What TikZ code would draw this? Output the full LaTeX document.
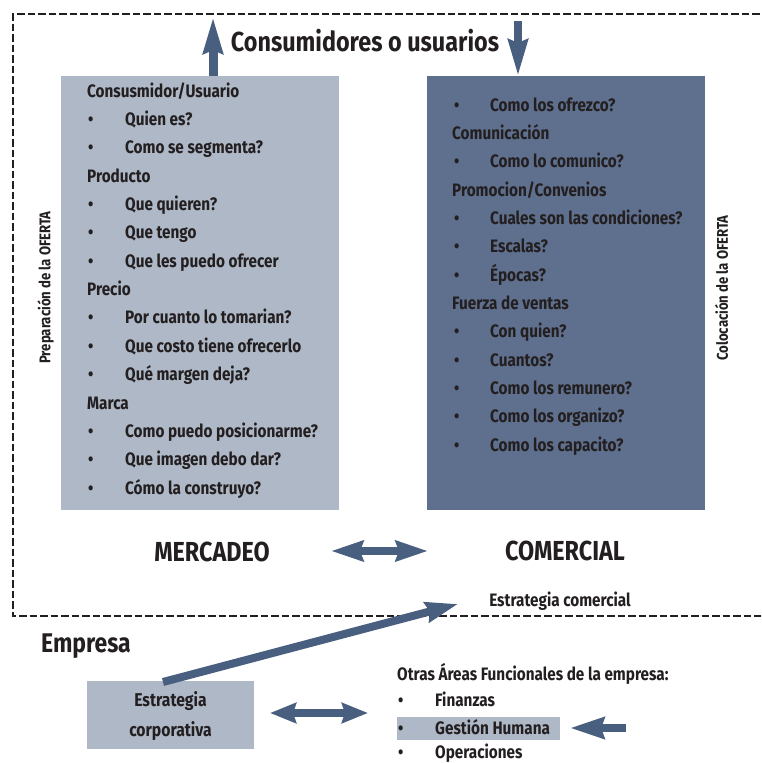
\documentclass[tikz,border=0pt]{standalone}
\usepackage{fontspec}
\setmainfont{Fira Sans}[FakeStretch=0.85]
\usetikzlibrary{arrows.meta}

\definecolor{boxlight}{RGB}{174,184,199}
\definecolor{boxdark}{RGB}{95,112,142}
\definecolor{arrowblue}{RGB}{73,95,127}
\definecolor{ink}{RGB}{35,31,32}

\tikzset{
  txt/.style={inner sep=0pt, text=ink, font=\bfseries\fontsize{18}{21}\selectfont},
  hd/.style={txt, anchor=base west},
  it/.style={txt, anchor=base west},
  bl/.style={txt, anchor=base west},
  panel/.style={inner sep=0pt, anchor=north west},
  fat/.style={draw=arrowblue, line width=8pt},
  tipA/.tip={Stealth[length=32pt,width=20pt,inset=3pt]},
  tipB/.tip={Stealth[length=36pt,width=19pt,inset=3pt]},
  tipC/.tip={Stealth[length=26pt,width=20pt,inset=3pt]},
}

\begin{document}
\begin{tikzpicture}[x=1pt,y=-1pt]
\useasboundingbox (0,0) rectangle (761,763);
\clip (0,0) rectangle (761,763);

% frame of the commercial area
\draw[ink, line width=2.4pt, dash pattern=on 7.5pt off 3pt]
  (770,14) -- (13,14) -- (13,616) -- (770,616);

% title and the two exchange arrows
\node[txt, font=\bfseries\fontsize{27.5}{31}\selectfont] (cons) at (365,41) {Consumidores o usuarios};

% panels
\node[panel, fill=boxlight, minimum width=278pt, minimum height=434pt] (mk) at (61,76) {};
\node[panel, fill=boxdark, minimum width=278pt, minimum height=434pt] (co) at (427,76) {};

\coordinate (upS) at (213,76);
\coordinate (upE) at (213,17);
\coordinate (dnS) at (518,21);
\coordinate (dnE) at (518,76);
\draw[fat, line width=9pt, -{tipB}] (upS) -- (upE);
\draw[fat, -{tipB}] (dnS) -- (dnE);

% left panel: preparing the offer
\node[hd] (l0)  at (87,97)    {Consusmidor/Usuario};
\node[bl] (lb1) at (88,125.4) {•};
\node[it] (l1)  at (125,125.4){Quien es?};
\node[bl] (lb2) at (88,153.7) {•};
\node[it] (l2)  at (125,153.7){Como se segmenta?};
\node[hd] (l3)  at (87,182.1) {Producto};
\node[bl] (lb4) at (88,210.4) {•};
\node[it] (l4)  at (125,210.4){Que quieren?};
\node[bl] (lb5) at (88,238.8) {•};
\node[it] (l5)  at (125,238.8){Que tengo};
\node[bl] (lb6) at (88,267.2) {•};
\node[it] (l6)  at (125,267.2){Que les puedo ofrecer};
\node[hd] (l7)  at (87,295.5) {Precio};
\node[bl] (lb8) at (88,323.9) {•};
\node[it] (l8)  at (125,323.9){Por cuanto lo tomarian?};
\node[bl] (lb9) at (88,352.2) {•};
\node[it] (l9)  at (125,352.2){Que costo tiene ofrecerlo};
\node[bl] (lb10) at (88,380.6) {•};
\node[it] (l10) at (125,380.6){Qué margen deja?};
\node[hd] (l11) at (87,409)   {Marca};
\node[bl] (lb12) at (88,437.3) {•};
\node[it] (l12) at (125,437.3){Como puedo posicionarme?};
\node[bl] (lb13) at (88,465.7) {•};
\node[it] (l13) at (125,465.7){Que imagen debo dar?};
\node[bl] (lb14) at (88,494)  {•};
\node[it] (l14) at (125,494)  {Cómo la construyo?};

% right panel: placing the offer
\node[bl] (rb0) at (454,111)   {•};
\node[it] (r0)  at (490,111)   {Como los ofrezco?};
\node[hd] (r1)  at (452,139.3) {Comunicación};
\node[bl] (rb2) at (454,167.7) {•};
\node[it] (r2)  at (490,167.7) {Como lo comunico?};
\node[hd] (r3)  at (452,196)   {Promocion/Convenios};
\node[bl] (rb4) at (454,224.3) {•};
\node[it] (r4)  at (490,224.3) {Cuales son las condiciones?};
\node[bl] (rb5) at (454,252.7) {•};
\node[it] (r5)  at (490,252.7) {Escalas?};
\node[bl] (rb6) at (454,281)   {•};
\node[it] (r6)  at (490,281)   {Épocas?};
\node[hd] (r7)  at (452,309.3) {Fuerza de ventas};
\node[bl] (rb8) at (454,337.6) {•};
\node[it] (r8)  at (490,337.6) {Con quien?};
\node[bl] (rb9) at (454,366)   {•};
\node[it] (r9)  at (490,366)   {Cuantos?};
\node[bl] (rb10) at (454,394.3) {•};
\node[it] (r10) at (490,394.3) {Como los remunero?};
\node[bl] (rb11) at (454,422.6) {•};
\node[it] (r11) at (490,422.6) {Como los organizo?};
\node[bl] (rb12) at (454,451)   {•};
\node[it] (r12) at (490,451)   {Como los capacito?};

% side captions
\node[txt, font=\bfseries\fontsize{15.5}{18}\selectfont, rotate=90] (prep) at (45.5,287.5) {Preparación de la OFERTA};
\node[txt, font=\bfseries\fontsize{15.5}{18}\selectfont, rotate=90] (colo) at (721.5,288) {Colocación de la OFERTA};

% the two areas
\node[txt, font=\bfseries\fontsize{27.5}{31}\selectfont] (merc) at (212,552) {MERCADEO};
\node[txt, font=\bfseries\fontsize{27.5}{31}\selectfont] (comr) at (565,551) {COMERCIAL};
\coordinate (mcL) at (331,551);
\coordinate (mcR) at (428,551);
\draw[fat, {tipA}-{tipA}] (mcL) -- (mcR);

\node[txt, anchor=base] (estc) at (560,606) {Estrategia comercial};

% company level
\node[txt, anchor=base west, font=\bfseries\fontsize{27}{30}\selectfont] (emp) at (41,652) {Empresa};
\node[panel, fill=boxlight, minimum width=167pt, minimum height=68pt] (corp) at (87,681) {};
\node[txt, anchor=base, font=\bfseries\fontsize{18.5}{22}\selectfont] (corp1) at (170.5,706) {Estrategia};
\node[txt, anchor=base, font=\bfseries\fontsize{18.5}{22}\selectfont] (corp2) at (170.5,736) {corporativa};

\coordinate (dgS) at (163,682);
\coordinate (dgE) at (458,604);
\draw[fat, -{tipA}] (dgS) -- (dgE);

\coordinate (bdL) at (270,713);
\coordinate (bdR) at (368,713);
\draw[fat, {tipC}-{tipC}] (bdL) -- (bdR);

% other functional areas
\node[panel, fill=boxlight, minimum width=163pt, minimum height=23pt] (ghbox) at (397,717) {};
\node[hd] (ot)  at (397,680) {Otras Áreas Funcionales de la empresa:};
\node[bl] (ob1) at (398,706) {•};
\node[it] (o1)  at (435,706) {Finanzas};
\node[bl] (ob2) at (398,734) {•};
\node[it] (o2)  at (435,734) {Gestión Humana};
\node[bl] (ob3) at (398,758) {•};
\node[it] (o3)  at (435,758) {Operaciones};

\coordinate (ghS) at (626,728);
\coordinate (ghE) at (570,728);
\draw[fat, -{Stealth[length=34pt,width=21pt,inset=3pt]}] (ghS) -- (ghE);
\end{tikzpicture}
\end{document}
